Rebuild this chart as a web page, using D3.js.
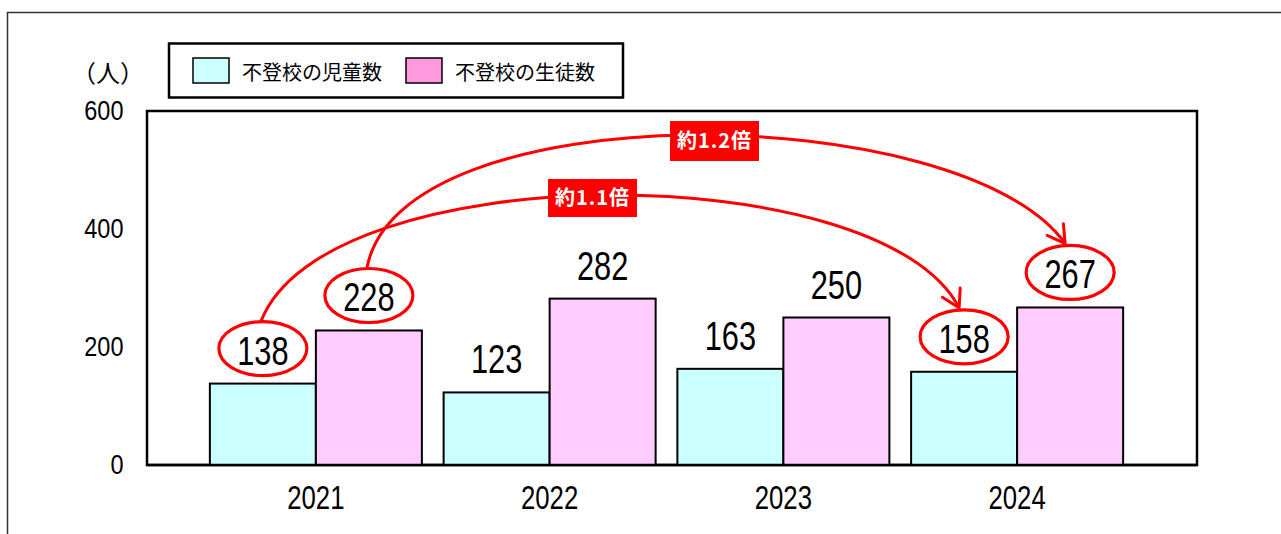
<!DOCTYPE html>
<html>
<head>
<meta charset="utf-8">
<script src="https://cdn.jsdelivr.net/npm/d3@7"></script>
<style>
  body { margin: 0; background: #fff; }
  svg { display: block; }
</style>
</head>
<body>
<div class="canvas"></div>
<script>
const years = ['2021', '2022', '2023', '2024'];
const elementary = [138, 123, 163, 158];   // 不登校の児童数
const juniorHigh = [228, 282, 250, 267];   // 不登校の生徒数
const seriesNames = ['不登校の児童数', '不登校の生徒数'];
const yTicks = [0, 200, 400, 600];

const svg = d3.select('.canvas')
  .append('svg')
  .attr('width', 1281)
  .attr('height', 534);

// no narrow font installed, so digits get squeezed with scale()
const numFont = '"Liberation Sans", Arial, sans-serif';
const jpFont = '"Noto Sans CJK JP", "Noto Sans", sans-serif';

// outer frame (only top and left edges show)
svg.append('path')
  .attr('d', 'M7.5,534 V12.5 H1281')
  .attr('fill', 'none')
  .attr('stroke', '#333')
  .attr('stroke-width', 1.5);

const plot = { left: 147, right: 1197, top: 111, bottom: 465 };

const x = d3.scaleBand()
  .domain(years)
  .range([199, 1134])
  .paddingInner(0.093)
  .paddingOuter(0.0465);

const xSub = d3.scaleBand()
  .domain([0, 1])
  .range([0, x.bandwidth()]);

const y = d3.scaleLinear()
  .domain([0, 600])
  .range([plot.bottom, plot.top]);

// plot frame
svg.append('rect')
  .attr('x', plot.left)
  .attr('y', plot.top)
  .attr('width', plot.right - plot.left)
  .attr('height', plot.bottom - plot.top)
  .attr('fill', '#fff')
  .attr('stroke', '#000')
  .attr('stroke-width', 2.5);

// y axis labels
const yAxis = svg.append('g')
  .attr('transform', `translate(${plot.left}, 0)`)
  .call(d3.axisLeft(y).tickValues(yTicks).tickSize(0).tickPadding(28));
yAxis.select('.domain').remove();
yAxis.selectAll('text')
  .attr('font-family', numFont)
  .attr('font-size', 28)
  .attr('fill', '#000')
  .attr('transform', 'scale(0.84,1)');

// x axis labels
const xAxis = svg.append('g')
  .attr('transform', `translate(0, ${plot.bottom})`)
  .call(d3.axisBottom(x).tickSize(0).tickPadding(21));
xAxis.select('.domain').remove();
xAxis.selectAll('text')
  .attr('font-family', numFont)
  .attr('font-size', 33)
  .attr('fill', '#000')
  .attr('transform', 'scale(0.78,1)');

// bars
const barColors = ['#ccffff', '#ffccff'];
const series = [elementary, juniorHigh];

const rows = [];
series.forEach((vals, s) => {
  vals.forEach((v, i) => rows.push({ year: years[i], s, v }));
});

const bx = d => x(d.year) + xSub(d.s);
const bcx = d => bx(d) + xSub.bandwidth() / 2;

svg.append('g')
  .selectAll('rect')
  .data(rows)
  .join('rect')
  .attr('x', bx)
  .attr('y', d => y(d.v))
  .attr('width', xSub.bandwidth())
  .attr('height', d => y(0) - y(d.v))
  .attr('fill', d => barColors[d.s])
  .attr('stroke', '#000')
  .attr('stroke-width', 2);

// baseline on top of bars
svg.append('line')
  .attr('x1', plot.left).attr('x2', plot.right)
  .attr('y1', plot.bottom).attr('y2', plot.bottom)
  .attr('stroke', '#000')
  .attr('stroke-width', 2.5);

// value labels
svg.append('g')
  .selectAll('text')
  .data(rows)
  .join('text')
  .attr('transform', d => `translate(${bcx(d)},${y(d.v) - 19}) scale(0.77,1)`)
  .attr('text-anchor', 'middle')
  .attr('font-family', numFont)
  .attr('font-size', 40)
  .attr('fill', '#000')
  .text(d => d.v);

// red ellipses around the compared values
const red = '#ff0000';
const circled = rows.filter(d => d.year === '2021' || d.year === '2024');
const rx = 44, ry = 27;
svg.append('g')
  .selectAll('ellipse')
  .data(circled)
  .join('ellipse')
  .attr('cx', bcx)
  .attr('cy', d => y(d.v) - 35)
  .attr('rx', rx)
  .attr('ry', ry)
  .attr('fill', 'none')
  .attr('stroke', red)
  .attr('stroke-width', 3.2);

// arrow marker
svg.append('defs').append('marker')
  .attr('id', 'arrow')
  .attr('viewBox', '-25 -15 30 30')
  .attr('markerUnits', 'userSpaceOnUse')
  .attr('markerWidth', 30)
  .attr('markerHeight', 30)
  .attr('refX', 0)
  .attr('refY', 0)
  .attr('orient', 'auto')
  .append('path')
  .attr('d', 'M-17,-10 L0,0 L-17,10')
  .attr('fill', 'none')
  .attr('stroke', red)
  .attr('stroke-width', 3)
  .attr('stroke-linecap', 'round');

const ellTop = (s, yr) => {
  const d = rows.find(r => r.s === s && r.year === yr);
  return [bcx(d), y(d.v) - 35 - ry];
};

const arcs = [
  { s: 0, label: '約1.1倍', c1: [64, 525], c2: [-79, 525], box: [548, 179, 89, 38] },
  { s: 1, label: '約1.2倍', c1: [32, 635], c2: [-103, 620], box: [670, 121, 89, 40] }
];

arcs.forEach(a => {
  const p0 = ellTop(a.s, '2021');
  const p3 = ellTop(a.s, '2024');
  p0[0] -= 2;
  p3[0] -= 5; p3[1] -= 2;
  const path = d3.path();
  path.moveTo(p0[0], p0[1]);
  path.bezierCurveTo(p0[0] + a.c1[0], y(a.c1[1]), p3[0] + a.c2[0], y(a.c2[1]), p3[0], p3[1]);
  svg.append('path')
    .attr('d', path.toString())
    .attr('fill', 'none')
    .attr('stroke', red)
    .attr('stroke-width', 3)
    .attr('marker-end', 'url(#arrow)');
});

arcs.forEach(a => {
  const [bx0, by0, bw, bh] = a.box;
  svg.append('rect')
    .attr('x', bx0).attr('y', by0)
    .attr('width', bw).attr('height', bh)
    .attr('fill', red);
  svg.append('text')
    .attr('x', bx0 + bw / 2)
    .attr('y', by0 + bh / 2 + 7)
    .attr('text-anchor', 'middle')
    .attr('font-family', jpFont)
    .attr('font-weight', 'bold')
    .attr('font-size', 20)
    .attr('letter-spacing', 1)
    .attr('fill', '#fff')
    .text(a.label);
});

// unit label
svg.append('text')
  .attr('x', 108)
  .attr('y', 82)
  .attr('text-anchor', 'middle')
  .attr('font-family', jpFont)
  .attr('font-size', 24)
  .attr('fill', '#000')
  .text('（人）');

// legend
const legend = svg.append('g');
legend.append('rect')
  .attr('x', 169).attr('y', 43.5)
  .attr('width', 454).attr('height', 54)
  .attr('fill', '#fff')
  .attr('stroke', '#000')
  .attr('stroke-width', 2.5);

const legendColors = ['#ccffff', '#ff99dd'];
const legendX = [193, 406];
seriesNames.forEach((name, i) => {
  legend.append('rect')
    .attr('x', legendX[i]).attr('y', 58)
    .attr('width', 36).attr('height', 25)
    .attr('fill', legendColors[i])
    .attr('stroke', '#000')
    .attr('stroke-width', 1.5);
  legend.append('text')
    .attr('x', legendX[i] + 49)
    .attr('y', 80)
    .attr('font-family', jpFont)
    .attr('font-size', 20)
    .attr('fill', '#000')
    .text(name);
});
</script>
</body>
</html>
